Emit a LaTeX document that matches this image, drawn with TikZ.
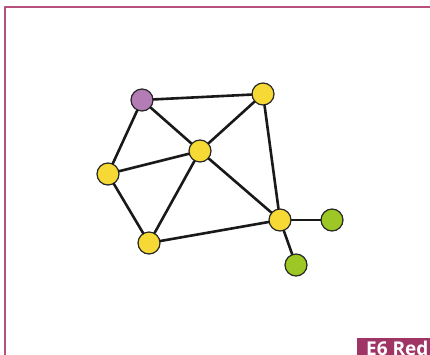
\documentclass[tikz,border=0pt]{standalone}
\usepackage{fontspec}
\newfontfamily\labelfont{Open Sans}
\usepackage{tikz}

\definecolor{vyellow}{HTML}{F6D934}
\definecolor{vpurple}{HTML}{B47CB4}
\definecolor{vgreen}{HTML}{9CC724}
\definecolor{framecol}{HTML}{B8507E}
\definecolor{tagcol}{HTML}{9E3565}

\begin{document}
\begin{tikzpicture}[x=1pt,y=-1pt,line cap=round,line join=round,
    vtx/.style={circle,draw=black!85,line width=1.2pt,inner sep=0pt,
      minimum size=22pt},
    edge/.style={line width=2.6pt,black!90}]
    \useasboundingbox (0,0) rectangle (430,354);
    \clip (0,0) rectangle (430,354);

    % Frame round the figure and its tag in the corner.
    \draw[framecol,line width=2pt] (5,7) rectangle (445,370);
    \fill[tagcol] (357,338) rectangle (445,370);
    \node[anchor=north west,inner sep=0pt,text=white,
      font=\labelfont\bfseries\fontsize{19}{19}\selectfont]
      (tag) at (366,341) {E6 Red};

    % The vertices of the graph.
    \node[vtx,fill=vpurple] (p) at (142,100) {};
    \node[vtx,fill=vyellow] (t) at (263,94) {};
    \node[vtx,fill=vyellow] (c) at (200,151) {};
    \node[vtx,fill=vyellow] (l) at (108,174) {};
    \node[vtx,fill=vyellow] (b) at (149,243) {};
    \node[vtx,fill=vyellow] (h) at (280,220) {};
    \node[vtx,fill=vgreen] (g1) at (332,220) {};
    \node[vtx,fill=vgreen] (g2) at (296,265) {};

    % The edges between them.
    \foreach \a/\b in {p/t,p/l,p/c,t/c,t/h,l/c,l/b,c/b,c/h,b/h,h/g1,h/g2}
      \draw[edge] (\a) -- (\b);
  \end{tikzpicture}
\end{document}
